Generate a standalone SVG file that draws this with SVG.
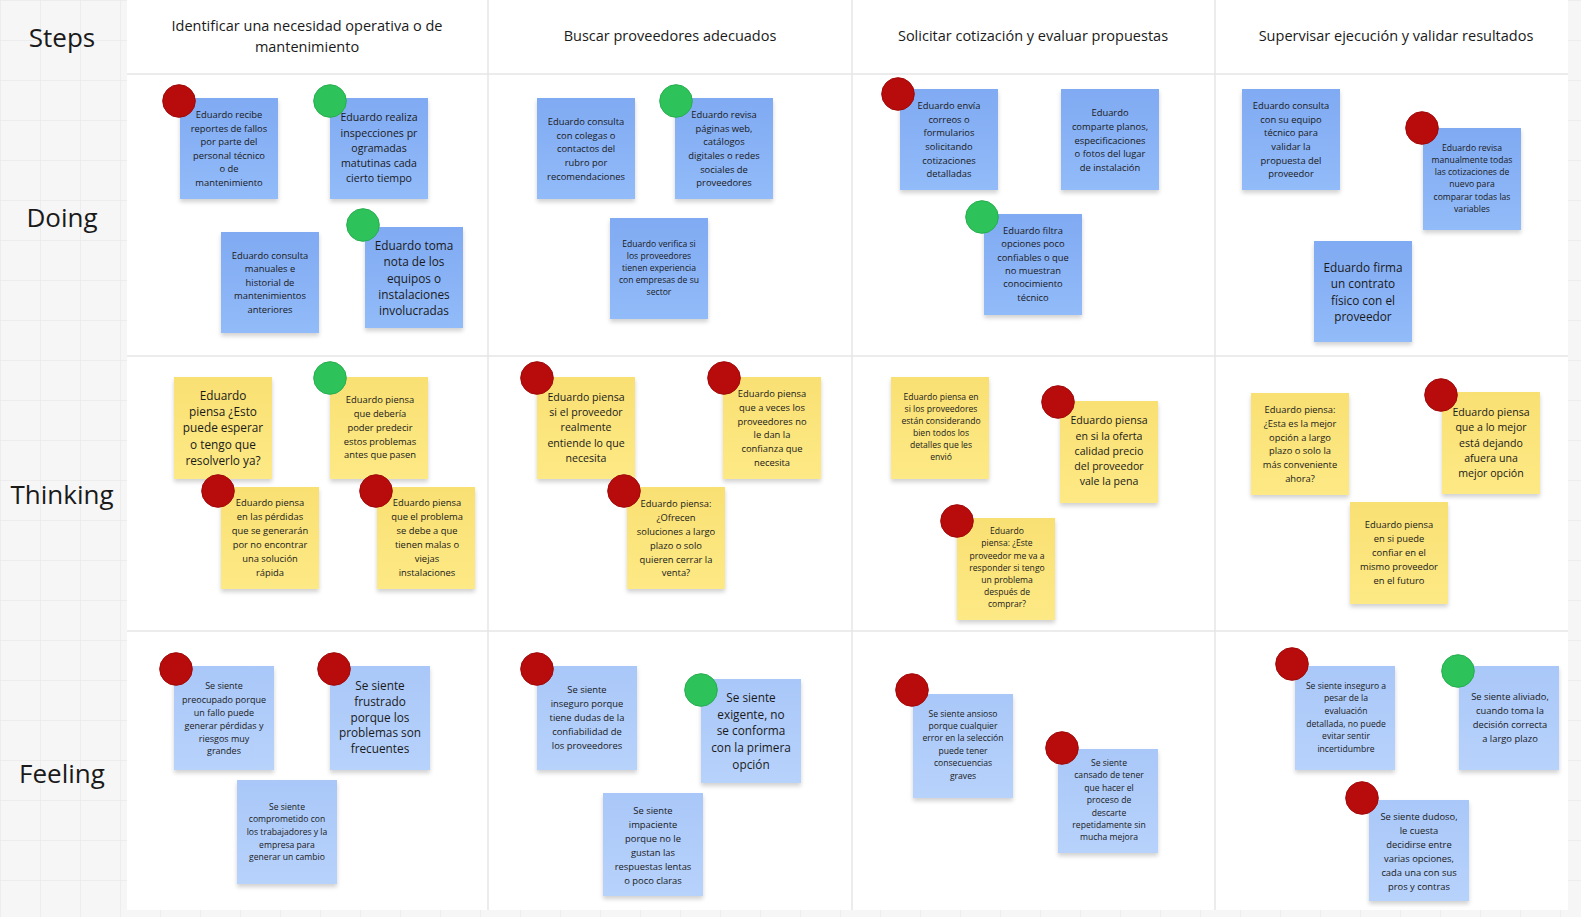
<svg xmlns="http://www.w3.org/2000/svg" width="1581" height="917" viewBox="0 0 1581 917">
<defs>
<pattern id="grid" width="40" height="40" patternUnits="userSpaceOnUse"><path d="M40 0H0V40" fill="none" stroke="#e4e4e4" stroke-width="1"/></pattern>
<linearGradient id="gDo" x1="0" y1="0" x2="0" y2="1"><stop offset="0" stop-color="#80aaf2"/><stop offset="1" stop-color="#92bbf9"/></linearGradient>
<linearGradient id="gFe" x1="0" y1="0" x2="0" y2="1"><stop offset="0" stop-color="#a9c7f8"/><stop offset="1" stop-color="#b7d2fb"/></linearGradient>
<linearGradient id="gTh" x1="0" y1="0" x2="0" y2="1"><stop offset="0" stop-color="#f9e073"/><stop offset="1" stop-color="#fde985"/></linearGradient>
<filter id="sh" x="-10%" y="-10%" width="130%" height="130%"><feDropShadow dx="0" dy="3" stdDeviation="2" flood-color="#000" flood-opacity="0.18"/></filter>
</defs>
<style>
text{font-family:"Open Sans","Noto Sans","Liberation Sans",sans-serif;fill:#1a1a1a;text-anchor:middle;dominant-baseline:central}
.lbl{font-size:26px}
.hdr{font-size:14.5px}
.a{font-size:8.6px}
.f{font-size:9px}
.b{font-size:9.4px}
.c{font-size:10.6px}
.d{font-size:11.8px}
.do{fill:url(#gDo);filter:url(#sh)}
.fe{fill:url(#gFe);filter:url(#sh)}
.th{fill:url(#gTh);filter:url(#sh)}
.red{fill:#b80b0b;stroke:#a00808;stroke-width:1}
.grn{fill:#2dc35a;stroke:#26ad4f;stroke-width:1}
.ln{stroke:#e6e6e6;stroke-width:1.5}
</style>
<rect width="1581" height="917" fill="#f6f6f6"/>
<rect width="1581" height="917" fill="url(#grid)"/>
<rect x="127" y="0" width="1441" height="910" fill="#ffffff"/>
<g id="lanes">
<line class="ln" x1="127" y1="74" x2="1568" y2="74"/>
<line class="ln" x1="127" y1="356" x2="1568" y2="356"/>
<line class="ln" x1="127" y1="631" x2="1568" y2="631"/>
<line class="ln" x1="488" y1="0" x2="488" y2="910"/>
<line class="ln" x1="852" y1="0" x2="852" y2="910"/>
<line class="ln" x1="1215" y1="0" x2="1215" y2="910"/>
</g>
<g id="row-labels">
<text class="lbl" x="62" y="37">Steps</text>
<text class="lbl" x="62" y="217">Doing</text>
<text class="lbl" x="62" y="494">Thinking</text>
<text class="lbl" x="62" y="773">Feeling</text>
</g>
<g id="headers">
<text class="hdr" x="307"><tspan x="307" y="25">Identificar una necesidad operativa o de</tspan><tspan x="307" y="46">mantenimiento</tspan></text>
<text class="hdr" x="670" y="35">Buscar proveedores adecuados</text>
<text class="hdr" x="1033" y="35">Solicitar cotización y evaluar propuestas</text>
<text class="hdr" x="1396" y="35">Supervisar ejecución y validar resultados</text>
</g>
<g id="connectors"></g>

<!-- DOING -->
<g id="d1"><rect class="do" x="180" y="98" width="98" height="101"/><circle class="red" cx="179" cy="101" r="16.3"/>
<text class="b"><tspan x="229" y="114">Eduardo recibe</tspan><tspan x="229" y="128">reportes de fallos</tspan><tspan x="229" y="141">por parte del</tspan><tspan x="229" y="155">personal técnico</tspan><tspan x="229" y="168">o de</tspan><tspan x="229" y="182">mantenimiento</tspan></text></g>
<g id="d2"><rect class="do" x="330" y="98" width="98" height="101"/><circle class="grn" cx="330" cy="101" r="16.3"/>
<text class="c"><tspan x="379" y="117">Eduardo realiza</tspan><tspan x="379" y="133">inspecciones pr</tspan><tspan x="379" y="148">ogramadas</tspan><tspan x="379" y="163">matutinas cada</tspan><tspan x="379" y="178">cierto tiempo</tspan></text></g>
<g id="d3"><rect class="do" x="221" y="232" width="98" height="101"/>
<text class="b"><tspan x="270" y="255">Eduardo consulta</tspan><tspan x="270" y="268">manuales e</tspan><tspan x="270" y="282">historial de</tspan><tspan x="270" y="295">mantenimientos</tspan><tspan x="270" y="309">anteriores</tspan></text></g>
<g id="d4"><rect class="do" x="365" y="227" width="98" height="101"/><circle class="grn" cx="363" cy="225" r="16.3"/>
<text class="d"><tspan x="414" y="245">Eduardo toma</tspan><tspan x="414" y="261">nota de los</tspan><tspan x="414" y="278">equipos o</tspan><tspan x="414" y="294">instalaciones</tspan><tspan x="414" y="310">involucradas</tspan></text></g>
<g id="d5"><rect class="do" x="537" y="98" width="98" height="101"/>
<text class="b"><tspan x="586" y="121">Eduardo consulta</tspan><tspan x="586" y="135">con colegas o</tspan><tspan x="586" y="148">contactos del</tspan><tspan x="586" y="162">rubro por</tspan><tspan x="586" y="176">recomendaciones</tspan></text></g>
<g id="d6"><rect class="do" x="675" y="98" width="98" height="101"/><circle class="grn" cx="676" cy="101" r="16.3"/>
<text class="b"><tspan x="724" y="114">Eduardo revisa</tspan><tspan x="724" y="128">páginas web,</tspan><tspan x="724" y="141">catálogos</tspan><tspan x="724" y="155">digitales o redes</tspan><tspan x="724" y="169">sociales de</tspan><tspan x="724" y="182">proveedores</tspan></text></g>
<g id="d7"><rect class="do" x="610" y="218" width="98" height="101"/>
<text class="a"><tspan x="659" y="244">Eduardo verifica si</tspan><tspan x="659" y="256">los proveedores</tspan><tspan x="659" y="268">tienen experiencia</tspan><tspan x="659" y="280">con empresas de su</tspan><tspan x="659" y="292">sector</tspan></text></g>
<g id="d8"><rect class="do" x="900" y="89" width="98" height="101"/><circle class="red" cx="898" cy="94" r="16.3"/>
<text class="b"><tspan x="949" y="105">Eduardo envía</tspan><tspan x="949" y="119">correos o</tspan><tspan x="949" y="132">formularios</tspan><tspan x="949" y="146">solicitando</tspan><tspan x="949" y="160">cotizaciones</tspan><tspan x="949" y="173">detalladas</tspan></text></g>
<g id="d9"><rect class="do" x="1061" y="89" width="98" height="101"/>
<text class="b"><tspan x="1110" y="112">Eduardo</tspan><tspan x="1110" y="126">comparte planos,</tspan><tspan x="1110" y="140">especificaciones</tspan><tspan x="1110" y="153">o fotos del lugar</tspan><tspan x="1110" y="167">de instalación</tspan></text></g>
<g id="d10"><rect class="do" x="984" y="214" width="98" height="101"/><circle class="grn" cx="982" cy="217" r="16.3"/>
<text class="b"><tspan x="1033" y="230">Eduardo filtra</tspan><tspan x="1033" y="243">opciones poco</tspan><tspan x="1033" y="257">confiables o que</tspan><tspan x="1033" y="270">no muestran</tspan><tspan x="1033" y="283">conocimiento</tspan><tspan x="1033" y="297">técnico</tspan></text></g>
<g id="d11"><rect class="do" x="1242" y="89" width="98" height="101"/>
<text class="b"><tspan x="1291" y="105">Eduardo consulta</tspan><tspan x="1291" y="119">con su equipo</tspan><tspan x="1291" y="132">técnico para</tspan><tspan x="1291" y="146">validar la</tspan><tspan x="1291" y="160">propuesta del</tspan><tspan x="1291" y="173">proveedor</tspan></text></g>
<g id="d12"><rect class="do" x="1423" y="128" width="98" height="102"/><circle class="red" cx="1422" cy="128" r="16.3"/>
<text class="a"><tspan x="1472" y="148">Eduardo revisa</tspan><tspan x="1472" y="160">manualmente todas</tspan><tspan x="1472" y="172">las cotizaciones de</tspan><tspan x="1472" y="184">nuevo para</tspan><tspan x="1472" y="197">comparar todas las</tspan><tspan x="1472" y="209">variables</tspan></text></g>
<g id="d13"><rect class="do" x="1314" y="241" width="98" height="101"/>
<text class="d"><tspan x="1363" y="267">Eduardo firma</tspan><tspan x="1363" y="283">un contrato</tspan><tspan x="1363" y="300">físico con el</tspan><tspan x="1363" y="316">proveedor</tspan></text></g>

<!-- THINKING -->
<g id="t1"><rect class="th" x="174" y="377" width="98" height="102"/>
<text class="d"><tspan x="223" y="395">Eduardo</tspan><tspan x="223" y="411">piensa ¿Esto</tspan><tspan x="223" y="427">puede esperar</tspan><tspan x="223" y="444">o tengo que</tspan><tspan x="223" y="460">resolverlo ya?</tspan></text></g>
<g id="t2"><rect class="th" x="330" y="377" width="98" height="102"/><circle class="grn" cx="330" cy="378" r="16.3"/>
<text class="b"><tspan x="380" y="399">Eduardo piensa</tspan><tspan x="380" y="413">que debería</tspan><tspan x="380" y="427">poder predecir</tspan><tspan x="380" y="441">estos problemas</tspan><tspan x="380" y="454">antes que pasen</tspan></text></g>
<g id="t3"><rect class="th" x="221" y="487" width="98" height="102"/><circle class="red" cx="218" cy="491" r="16.3"/>
<text class="b"><tspan x="270" y="502">Eduardo piensa</tspan><tspan x="270" y="516">en las pérdidas</tspan><tspan x="270" y="530">que se generarán</tspan><tspan x="270" y="544">por no encontrar</tspan><tspan x="270" y="558">una solución</tspan><tspan x="270" y="572">rápida</tspan></text></g>
<g id="t4"><rect class="th" x="377" y="487" width="98" height="102"/><circle class="red" cx="376" cy="491" r="16.3"/>
<text class="b"><tspan x="427" y="502">Eduardo piensa</tspan><tspan x="427" y="516">que el problema</tspan><tspan x="427" y="530">se debe a que</tspan><tspan x="427" y="544">tienen malas o</tspan><tspan x="427" y="558">viejas</tspan><tspan x="427" y="572">instalaciones</tspan></text></g>
<g id="t5"><rect class="th" x="537" y="377" width="98" height="102"/><circle class="red" cx="537" cy="378" r="16.3"/>
<text class="c"><tspan x="586" y="397">Eduardo piensa</tspan><tspan x="586" y="412">si el proveedor</tspan><tspan x="586" y="427">realmente</tspan><tspan x="586" y="443">entiende lo que</tspan><tspan x="586" y="458">necesita</tspan></text></g>
<g id="t6"><rect class="th" x="723" y="377" width="98" height="102"/><circle class="red" cx="724" cy="378" r="16.3"/>
<text class="b"><tspan x="772" y="393">Eduardo piensa</tspan><tspan x="772" y="407">que a veces los</tspan><tspan x="772" y="421">proveedores no</tspan><tspan x="772" y="434">le dan la</tspan><tspan x="772" y="448">confianza que</tspan><tspan x="772" y="462">necesita</tspan></text></g>
<g id="t7"><rect class="th" x="627" y="487" width="98" height="102"/><circle class="red" cx="624" cy="491" r="16.3"/>
<text class="b"><tspan x="676" y="503">Eduardo piensa:</tspan><tspan x="676" y="517">¿Ofrecen</tspan><tspan x="676" y="531">soluciones a largo</tspan><tspan x="676" y="545">plazo o solo</tspan><tspan x="676" y="559">quieren cerrar la</tspan><tspan x="676" y="572">venta?</tspan></text></g>
<g id="t8"><rect class="th" x="891" y="377" width="98" height="102"/>
<text class="a"><tspan x="941" y="397">Eduardo piensa en</tspan><tspan x="941" y="409">si los proveedores</tspan><tspan x="941" y="421">están considerando</tspan><tspan x="941" y="433">bien todos los</tspan><tspan x="941" y="445">detalles que les</tspan><tspan x="941" y="457">envió</tspan></text></g>
<g id="t9"><rect class="th" x="1060" y="401" width="98" height="102"/><circle class="red" cx="1058" cy="402" r="16.3"/>
<text class="c"><tspan x="1109" y="420">Eduardo piensa</tspan><tspan x="1109" y="436">en si la oferta</tspan><tspan x="1109" y="451">calidad precio</tspan><tspan x="1109" y="466">del proveedor</tspan><tspan x="1109" y="481">vale la pena</tspan></text></g>
<g id="t10"><rect class="th" x="957" y="518" width="98" height="102"/><circle class="red" cx="957" cy="521" r="16.3"/>
<text class="a"><tspan x="1007" y="531">Eduardo</tspan><tspan x="1007" y="543">piensa: ¿Este</tspan><tspan x="1007" y="556">proveedor me va a</tspan><tspan x="1007" y="568">responder si tengo</tspan><tspan x="1007" y="580">un problema</tspan><tspan x="1007" y="592">después de</tspan><tspan x="1007" y="604">comprar?</tspan></text></g>
<g id="t11"><rect class="th" x="1251" y="393" width="98" height="102"/>
<text class="b"><tspan x="1300" y="409">Eduardo piensa:</tspan><tspan x="1300" y="423">¿Esta es la mejor</tspan><tspan x="1300" y="437">opción a largo</tspan><tspan x="1300" y="450">plazo o solo la</tspan><tspan x="1300" y="464">más conveniente</tspan><tspan x="1300" y="478">ahora?</tspan></text></g>
<g id="t12"><rect class="th" x="1442" y="392" width="98" height="102"/><circle class="red" cx="1441" cy="395" r="16.3"/>
<text class="c"><tspan x="1491" y="412">Eduardo piensa</tspan><tspan x="1491" y="427">que a lo mejor</tspan><tspan x="1491" y="443">está dejando</tspan><tspan x="1491" y="458">afuera una</tspan><tspan x="1491" y="473">mejor opción</tspan></text></g>
<g id="t13"><rect class="th" x="1350" y="502" width="98" height="102"/>
<text class="b"><tspan x="1399" y="524">Eduardo piensa</tspan><tspan x="1399" y="538">en si puede</tspan><tspan x="1399" y="552">confiar en el</tspan><tspan x="1399" y="566">mismo proveedor</tspan><tspan x="1399" y="580">en el futuro</tspan></text></g>

<!-- FEELING -->
<g id="f1"><rect class="fe" x="174" y="666" width="100" height="104"/><circle class="red" cx="176" cy="669" r="16.3"/>
<text class="f"><tspan x="224" y="685">Se siente</tspan><tspan x="224" y="699">preocupado porque</tspan><tspan x="224" y="712">un fallo puede</tspan><tspan x="224" y="725">generar pérdidas y</tspan><tspan x="224" y="738">riesgos muy</tspan><tspan x="224" y="750">grandes</tspan></text></g>
<g id="f2"><rect class="fe" x="330" y="666" width="100" height="104"/><circle class="red" cx="334" cy="669" r="16.3"/>
<text class="d"><tspan x="380" y="685">Se siente</tspan><tspan x="380" y="701">frustrado</tspan><tspan x="380" y="717">porque los</tspan><tspan x="380" y="732">problemas son</tspan><tspan x="380" y="748">frecuentes</tspan></text></g>
<g id="f3"><rect class="fe" x="237" y="780" width="100" height="104"/>
<text class="a"><tspan x="287" y="807">Se siente</tspan><tspan x="287" y="819">comprometido con</tspan><tspan x="287" y="832">los trabajadores y la</tspan><tspan x="287" y="845">empresa para</tspan><tspan x="287" y="857">generar un cambio</tspan></text></g>
<g id="f4"><rect class="fe" x="537" y="666" width="100" height="104"/><circle class="red" cx="537" cy="669" r="16.3"/>
<text class="b"><tspan x="587" y="689">Se siente</tspan><tspan x="587" y="703">inseguro porque</tspan><tspan x="587" y="717">tiene dudas de la</tspan><tspan x="587" y="731">confiabilidad de</tspan><tspan x="587" y="745">los proveedores</tspan></text></g>
<g id="f5"><rect class="fe" x="701" y="679" width="100" height="104"/><circle class="grn" cx="701" cy="690" r="16.3"/>
<text class="d"><tspan x="751" y="697">Se siente</tspan><tspan x="751" y="714">exigente, no</tspan><tspan x="751" y="730">se conforma</tspan><tspan x="751" y="747">con la primera</tspan><tspan x="751" y="764">opción</tspan></text></g>
<g id="f6"><rect class="fe" x="603" y="793" width="100" height="103"/>
<text class="b"><tspan x="653" y="810">Se siente</tspan><tspan x="653" y="824">impaciente</tspan><tspan x="653" y="838">porque no le</tspan><tspan x="653" y="852">gustan las</tspan><tspan x="653" y="866">respuestas lentas</tspan><tspan x="653" y="880">o poco claras</tspan></text></g>
<g id="f7"><rect class="fe" x="913" y="694" width="100" height="104"/><circle class="red" cx="912" cy="690" r="16.3"/>
<text class="a"><tspan x="963" y="714">Se siente ansioso</tspan><tspan x="963" y="726">porque cualquier</tspan><tspan x="963" y="738">error en la selección</tspan><tspan x="963" y="751">puede tener</tspan><tspan x="963" y="763">consecuencias</tspan><tspan x="963" y="776">graves</tspan></text></g>
<g id="f8"><rect class="fe" x="1058" y="749" width="100" height="104"/><circle class="red" cx="1062" cy="748" r="16.3"/>
<text class="a"><tspan x="1109" y="763">Se siente</tspan><tspan x="1109" y="775">cansado de tener</tspan><tspan x="1109" y="788">que hacer el</tspan><tspan x="1109" y="800">proceso de</tspan><tspan x="1109" y="813">descarte</tspan><tspan x="1109" y="825">repetidamente sin</tspan><tspan x="1109" y="837">mucha mejora</tspan></text></g>
<g id="f9"><rect class="fe" x="1295" y="666" width="100" height="104"/><circle class="red" cx="1292" cy="664" r="16.3"/>
<text class="a"><tspan x="1346" y="686">Se siente inseguro a</tspan><tspan x="1346" y="698">pesar de la</tspan><tspan x="1346" y="711">evaluación</tspan><tspan x="1346" y="724">detallada, no puede</tspan><tspan x="1346" y="736">evitar sentir</tspan><tspan x="1346" y="749">incertidumbre</tspan></text></g>
<g id="f10"><rect class="fe" x="1459" y="666" width="100" height="104"/><circle class="grn" cx="1458" cy="671" r="16.3"/>
<text class="b"><tspan x="1510" y="696">Se siente aliviado,</tspan><tspan x="1510" y="710">cuando toma la</tspan><tspan x="1510" y="724">decisión correcta</tspan><tspan x="1510" y="738">a largo plazo</tspan></text></g>
<g id="f11"><rect class="fe" x="1369" y="800" width="100" height="101"/><circle class="red" cx="1362" cy="798" r="16.3"/>
<text class="b"><tspan x="1419" y="816">Se siente dudoso,</tspan><tspan x="1419" y="830">le cuesta</tspan><tspan x="1419" y="844">decidirse entre</tspan><tspan x="1419" y="858">varias opciones,</tspan><tspan x="1419" y="872">cada una con sus</tspan><tspan x="1419" y="886">pros y contras</tspan></text></g>
</svg>
